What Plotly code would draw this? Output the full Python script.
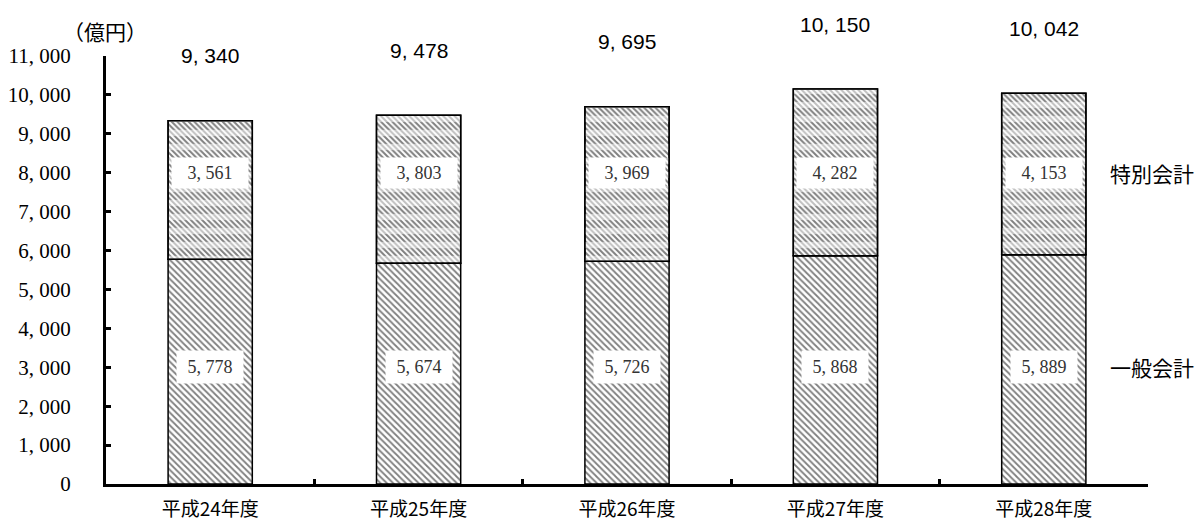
import plotly.graph_objects as go

categories = ["平成24年度", "平成25年度", "平成26年度", "平成27年度", "平成28年度"]
general = [5778, 5674, 5726, 5868, 5889]
special = [3561, 3803, 3969, 4282, 4153]
totals = [9340, 9478, 9695, 10150, 10042]
tick_vals = list(range(0, 11001, 1000))
tick_text = ["0"] + [f"{v:,}".replace(",", ", ") for v in tick_vals[1:]]

def fmt(v):
    return f"{v:,}".replace(",", ", ")

serif = "Liberation Serif, DejaVu Serif, Noto Sans CJK JP"
sans = "Liberation Sans, Noto Sans CJK JP"
cjk = "Noto Sans CJK JP"
W = 0.404

fig = go.Figure()
fig.add_trace(go.Bar(
    x=categories, y=general, base=[0] * len(general), name="一般会計", width=W,
    marker=dict(color="white", line=dict(color="black", width=1.5),
                pattern=dict(shape="\\", fgcolor="black", bgcolor="white", size=4.5, solidity=0.4)),
))
fig.add_trace(go.Bar(
    x=categories, y=special, base=general, name="特別会計", width=W,
    marker=dict(color="white", line=dict(color="black", width=1.5),
                pattern=dict(shape="\\", fgcolor="black", bgcolor="white", size=4, solidity=0.5)),
))
fig.add_trace(go.Bar(
    x=categories, y=special, base=general, name="特別会計", width=W, hoverinfo="skip",
    marker=dict(color="rgba(0,0,0,0)", line=dict(color="black", width=1.5),
                pattern=dict(shape="-", fgcolor="white", bgcolor="rgba(0,0,0,0)", size=14, solidity=0.45)),
))

anns = []
for c, g, s, t in zip(categories, general, special, totals):
    anns.append(dict(x=c, y=3000, text=fmt(g), showarrow=False, bgcolor="white",
                     width=60, height=26, borderpad=3,
                     font=dict(family=serif, size=18, color="#333")))
    anns.append(dict(x=c, y=8000, text=fmt(s), showarrow=False, bgcolor="white",
                     width=70, height=24, borderpad=3,
                     font=dict(family=serif, size=18, color="#333")))
    anns.append(dict(x=c, y=t, text=fmt(t), showarrow=False, yshift=65,
                     font=dict(family=sans, size=21, color="black")))
anns.append(dict(xref="paper", yref="y", x=0.9616, y=3000, xanchor="left", text="一般会計",
                 showarrow=False, font=dict(family=cjk, size=21, color="black")))
anns.append(dict(xref="paper", yref="y", x=0.9616, y=8000, xanchor="left", text="特別会計",
                 showarrow=False, font=dict(family=cjk, size=21, color="black")))
anns.append(dict(xref="paper", yref="paper", x=-0.043, y=1.0, yshift=42, xanchor="left",
                 text="（億円）", showarrow=False, font=dict(family=cjk, size=21, color="black")))

fig.update_layout(
    barmode="overlay",
    width=1203, height=522,
    margin=dict(l=106, r=55, t=56, b=38),
    plot_bgcolor="white", paper_bgcolor="white",
    showlegend=False,
    annotations=anns,
    font=dict(family=serif, size=16, color="black"),
)
fig.update_yaxes(range=[0, 11000], tickvals=tick_vals, ticktext=tick_text,
                 showline=True, linecolor="black", linewidth=3, ticks="inside",
                 ticklen=5, tickwidth=3, tickcolor="black", showgrid=False, zeroline=False,
                 ticklabelstandoff=28, automargin=False,
                 tickfont=dict(family=serif, size=21))
fig.update_xaxes(range=[-0.5, 4.5], showline=True, linecolor="black", linewidth=3,
                 ticks="inside", tickson="boundaries", ticklen=5, tickwidth=3, tickcolor="black",
                 showgrid=False, ticklabelstandoff=6, automargin=False,
                 tickfont=dict(family=cjk, size=19))

fig.write_html("out.html")
